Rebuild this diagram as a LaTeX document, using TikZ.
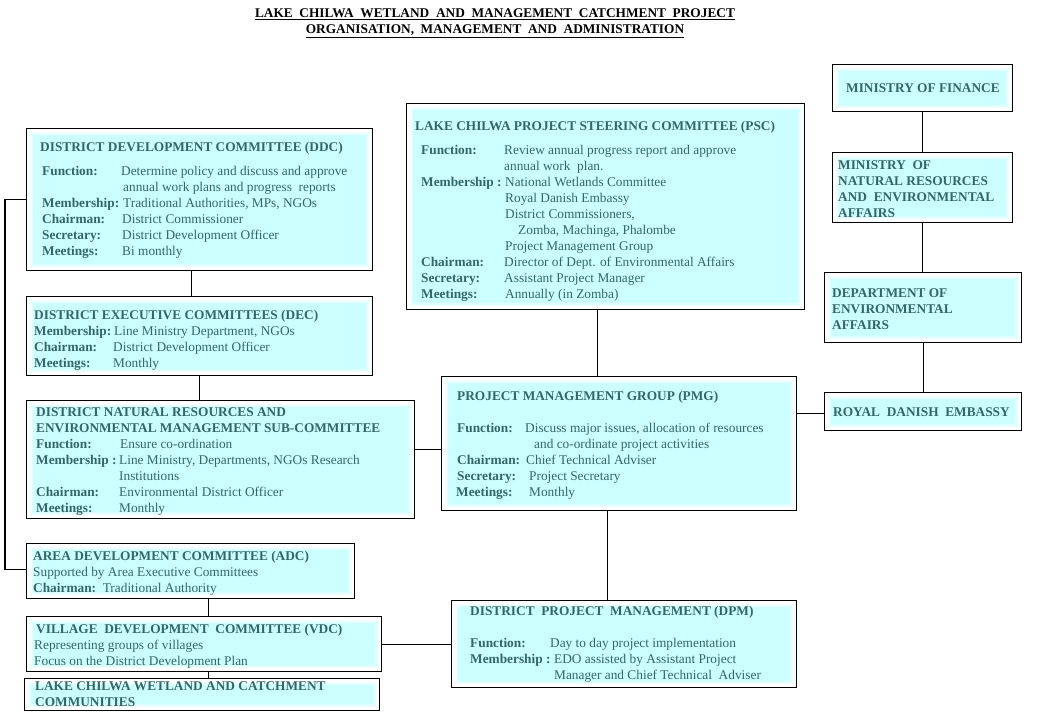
\documentclass[tikz,border=0pt]{standalone}
\usepackage{fontspec}
\setmainfont{Liberation Serif}
\definecolor{tx}{HTML}{336666}
\definecolor{cy}{HTML}{CCFFFF}
\newcommand\lrow[3]{\makebox[#1pt][l]{\textbf{#2}}#3}
\newcommand\crow[2]{\hspace*{#1pt}#2}
\newcommand\mkbox[5]{\node[cbox, minimum width={#4-#2}, minimum height={#5-#3}] (#1) at (#2,#3) {};}
\begin{document}
\begin{tikzpicture}[x=1pt,y=-1pt,
  cbox/.style={draw, line width=1.3pt, fill=white, anchor=north west, inner sep=0pt,
    path picture={
      \fill[cy, opacity=0.3] ([shift={(3.5,3.5)}]path picture bounding box.north west) rectangle ([shift={(-3.5,-3.5)}]path picture bounding box.south east);
      \fill[cy, opacity=0.45] ([shift={(5,5)}]path picture bounding box.north west) rectangle ([shift={(-5,-5)}]path picture bounding box.south east);
      \fill[cy] ([shift={(6.5,6.5)}]path picture bounding box.north west) rectangle ([shift={(-6.5,-6.5)}]path picture bounding box.south east);
    }},
  txt/.style={inner sep=0pt, text=tx, anchor=base west, font=\fontsize{13.33}{16}\selectfont},
  conn/.style={line width=1.3pt}]
\useasboundingbox[fill=white] (0,0) rectangle (1038,719);

% title
\node[inner sep=0pt, anchor=base, font=\fontsize{13.33}{16}\selectfont\bfseries] (title) at (495,17.5)
 {\begin{tabular}[t]{@{}c@{}}
 \underline{LAKE\ \ CHILWA\ \ WETLAND\ \ AND\ \ MANAGEMENT\ \ CATCHMENT\ \ PROJECT}\\
 \underline{ORGANISATION,\ \ MANAGEMENT\ \ AND\ \ ADMINISTRATION}
 \end{tabular}};

% boxes
\mkbox{mof}{832}{64}{1012}{111}
\mkbox{mnrea}{832}{152}{1012}{222}
\mkbox{dea}{824}{272}{1021}{342}
\mkbox{rde}{824}{392}{1021}{430}
\mkbox{psc}{406}{103}{804}{309}
\mkbox{ddc}{26}{128}{372}{270}
\mkbox{dec}{26}{296}{372}{375}
\mkbox{dnrem}{26}{400}{414}{518}
\mkbox{pmg}{441}{376}{796}{510}
\mkbox{adc}{26}{543}{354}{598}
\mkbox{vdc}{26}{616}{381}{671}
\mkbox{comm}{24}{678}{379}{710}
\mkbox{dpm}{451}{600}{796}{687}

% texts
\node[txt] (moft) at (846,92.5) {\textbf{MINISTRY OF FINANCE}};
\node[txt] (mnreat) at (838,169.5) {\begin{tabular}[t]{@{}l@{}}\bfseries MINISTRY\ \ OF\\\bfseries NATURAL RESOURCES\\\bfseries AND\ \ ENVIRONMENTAL\\\bfseries AFFAIRS\end{tabular}};
\node[txt] (deat) at (832,297.5) {\begin{tabular}[t]{@{}l@{}}\bfseries DEPARTMENT OF\\\bfseries ENVIRONMENTAL\\\bfseries AFFAIRS\end{tabular}};
\node[txt] (rdet) at (833,416.5) {\textbf{ROYAL\ \ DANISH\ \ EMBASSY}};

\node[txt] (psct) at (421,130.5) {\begin{tabular}[t]{@{}l@{}}
\hspace*{-6pt}\textbf{LAKE CHILWA PROJECT STEERING COMMITTEE (PSC)}\\[8pt]
\lrow{83}{Function:}{Review annual progress report and approve}\\
\crow{83}{annual work\ \ plan.}\\
\lrow{84}{Membership :}{National Wetlands Committee}\\
\crow{84}{Royal Danish Embassy}\\
\crow{84}{District Commissioners,}\\
\crow{97}{Zomba, Machinga, Phalombe}\\
\crow{84}{Project Management Group}\\
\lrow{83}{Chairman:}{Director of Dept. of Environmental Affairs}\\
\lrow{83}{Secretary:}{Assistant Project Manager}\\
\lrow{84}{Meetings:}{Annually (in Zomba)}
\end{tabular}};

\node[txt] (ddct) at (42,151.5) {\begin{tabular}[t]{@{}l@{}}
\hspace*{-2pt}\textbf{DISTRICT DEVELOPMENT COMMITTEE (DDC)}\\[8pt]
\lrow{79}{Function:}{Determine policy and discuss and approve}\\
\crow{81}{annual work plans and progress\ \ reports}\\
\lrow{81}{Membership:}{Traditional Authorities, MPs, NGOs}\\
\lrow{80}{Chairman:}{District Commissioner}\\
\lrow{80}{Secretary:}{District Development Officer}\\
\lrow{80}{Meetings:}{Bi monthly}
\end{tabular}};

\node[txt] (dect) at (34,319.5) {\begin{tabular}[t]{@{}l@{}}
\textbf{DISTRICT EXECUTIVE COMMITTEES (DEC)}\\
\lrow{80}{Membership:}{Line Ministry Department, NGOs}\\
\lrow{79}{Chairman:}{District Development Officer}\\
\lrow{79}{Meetings:}{Monthly}
\end{tabular}};

\node[txt] (dnremt) at (36,416.5) {\begin{tabular}[t]{@{}l@{}}
\textbf{DISTRICT NATURAL RESOURCES AND}\\
\textbf{ENVIRONMENTAL MANAGEMENT SUB-COMMITTEE}\\
\lrow{84}{Function:}{Ensure co-ordination}\\
\lrow{83}{Membership :}{Line Ministry, Departments, NGOs Research}\\
\crow{83}{Institutions}\\
\lrow{83}{Chairman:}{Environmental District Officer}\\
\lrow{83}{Meetings:}{Monthly}
\end{tabular}};

\node[txt] (pmgt) at (457,400.5) {\begin{tabular}[t]{@{}l@{}}
\textbf{PROJECT MANAGEMENT GROUP (PMG)}\\[16pt]
\lrow{68}{Function:}{Discuss major issues, allocation of resources}\\
\crow{77}{and co-ordinate project activities}\\
\lrow{69}{Chairman:}{Chief Technical Adviser}\\
\lrow{72}{Secretary:}{Project Secretary}\\
\hspace*{-1pt}\lrow{73}{Meetings:}{Monthly}
\end{tabular}};

\node[txt] (adct) at (33,560.5) {\begin{tabular}[t]{@{}l@{}}
\textbf{AREA DEVELOPMENT COMMITTEE (ADC)}\\
Supported by Area Executive Committees\\
\textbf{Chairman:}\ \ Traditional Authority
\end{tabular}};

\node[txt] (vdct) at (34,633.5) {\begin{tabular}[t]{@{}l@{}}
\hspace*{2pt}\textbf{VILLAGE\ \ DEVELOPMENT\ \ COMMITTEE (VDC)}\\
Representing groups of villages\\
Focus on the District Development Plan
\end{tabular}};

\node[txt] (commt) at (35,690.5) {\begin{tabular}[t]{@{}l@{}}
\textbf{LAKE CHILWA WETLAND AND CATCHMENT}\\
\textbf{COMMUNITIES}
\end{tabular}};

\node[txt] (dpmt) at (470,615.5) {\begin{tabular}[t]{@{}l@{}}
\textbf{DISTRICT\ \ PROJECT\ \ MANAGEMENT (DPM)}\\[16pt]
\lrow{80}{Function:}{Day to day project implementation}\\
\lrow{84}{Membership :}{EDO assisted by Assistant Project}\\
\crow{84}{Manager and Chief Technical\ \ Adviser}
\end{tabular}};

% connectors
\coordinate (lb) at (5,0);
\draw[conn] (mof.south) -- (mof.south |- mnrea.north);
\draw[conn] (mnrea.south) -- (mnrea.south |- dea.north);
\draw[conn] (dea.south) -- (dea.south |- rde.north);
\draw[conn] ([yshift=-2pt]rde.west) -- ([yshift=-2pt]rde.west -| pmg.east);
\draw[conn] ([xshift=-8pt]psc.south) -- ([xshift=-8pt]psc.south |- pmg.north);
\draw[conn] ([xshift=-12pt]pmg.south) -- ([xshift=-12pt]pmg.south |- dpm.north);
\draw[conn] ([xshift=-8pt]ddc.south) -- ([xshift=-8pt]ddc.south |- dec.north);
\draw[conn] (dec.south) -- (dec.south |- dnrem.north);
\draw[conn] ([yshift=10pt]dnrem.east) -- ([yshift=10pt]dnrem.east -| pmg.west);
\draw[conn] (vdc.east) -- (vdc.east -| dpm.west);
\draw[conn] ([xshift=18pt]adc.south) -- ([xshift=18pt]adc.south |- vdc.north);
\draw[conn] ([xshift=4.5pt]vdc.south) -- ([xshift=4.5pt]vdc.south |- comm.north);
\draw[conn] (ddc.west) -- (ddc.west -| lb) |- ([yshift=2pt]adc.west);
\end{tikzpicture}
\end{document}
